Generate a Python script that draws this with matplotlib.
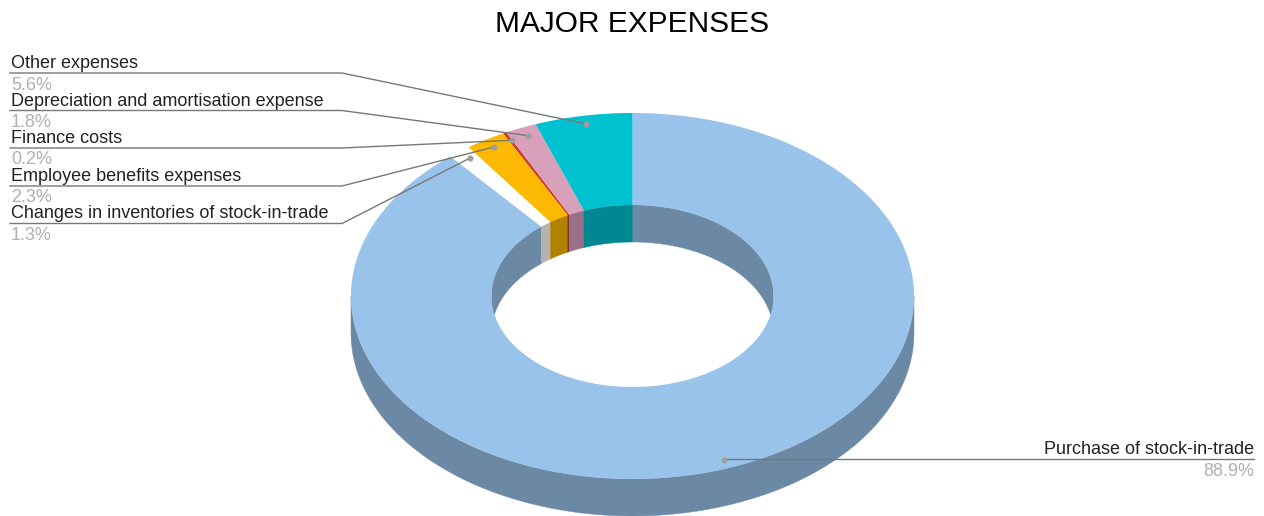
import numpy as np
import matplotlib
matplotlib.use('Agg')
import matplotlib.pyplot as plt

plt.rcParams['font.family'] = ['Liberation Sans', 'DejaVu Sans']

categories = ['Purchase of stock-in-trade', 'Changes in inventories of stock-in-trade',
              'Employee benefits expenses', 'Finance costs',
              'Depreciation and amortisation expense', 'Other expenses']
values = [88.9, 1.3, 2.3, 0.2, 1.8, 5.6]
top_colors = ['#99c3eb', '#ffffff', '#fdb900', '#cc3b2a', '#d9a0bc', '#00c1cf']
wall_colors = ['#6b89a5', '#b3b3b3', '#b18200', '#8f2a1e', '#98708a', '#008791']

# ring geometry in pixels
cx, cy = 632.5, 296
rx, ry = 281.5, 183
hole_rx, hole_ry = 141, 91
depth = 37
anchor_x, anchor_y = 0.94, 0.955

# y of the rule under each name
rule_y = [459, 223.5, 186, 148, 110.5, 73]
bend_x = 342


def ellipse_pts(t, a, b, dy=0):
    # t is measured clockwise from twelve o'clock
    return cx + a * np.sin(t), cy - b * np.cos(t) + dy


def wall(ax, t1, t2, a, b, color):
    if t2 <= t1:
        return
    t = np.linspace(t1, t2, 200)
    x, y = ellipse_pts(t, a, b)
    xb, yb = ellipse_pts(t[::-1], a, b, depth)
    ax.fill(np.r_[x, xb], np.r_[y, yb], color=color, lw=0.3, zorder=2)


fig = plt.figure(figsize=(12.64, 5.16), dpi=100)
ax = fig.add_axes([0, 0, 1, 1])
ax.set_xlim(0, 1264)
ax.set_ylim(516, 0)
ax.axis('off')

fractions = np.array(values) / sum(values)
edges = np.r_[0, np.cumsum(fractions)] * 2 * np.pi

for i in range(len(values)):
    t1, t2 = edges[i], edges[i + 1]
    # outer wall shows on the front half, inner wall on the back half
    wall(ax, max(t1, np.pi / 2), min(t2, 3 * np.pi / 2), rx, ry, wall_colors[i])
    wall(ax, t1, min(t2, np.pi / 2), hole_rx, hole_ry, wall_colors[i])
    wall(ax, max(t1, 3 * np.pi / 2), t2, hole_rx, hole_ry, wall_colors[i])

for i in range(len(values)):
    t = np.linspace(edges[i], edges[i + 1], 400)
    x, y = ellipse_pts(t, rx, ry)
    xi, yi = ellipse_pts(t[::-1], hole_rx, hole_ry)
    ax.fill(np.r_[x, xi], np.r_[y, yi], color=top_colors[i], lw=0, zorder=3)

line_col = '#777777'
for i, name in enumerate(categories):
    mid = (edges[i] + edges[i + 1]) / 2
    dx, dy = ellipse_pts(mid, rx * anchor_x, ry * anchor_y)
    pct = f'{values[i]}%'
    if i == 0:
        ax.plot([dx, 1254], [rule_y[i], rule_y[i]], color=line_col, lw=1, zorder=4)
        ax.plot(dx, dy, 'o', ms=4.4, color='#9e9e9e', mew=0, zorder=5)
        ax.text(1254, rule_y[i] - 1, name, ha='right', va='bottom', fontsize=13, color='#222222')
        ax.text(1254, rule_y[i] + 3.5, pct, ha='right', va='top', fontsize=13, color='#b0b0b0')
    else:
        ax.plot([10, bend_x, dx], [rule_y[i], rule_y[i], dy], color=line_col, lw=1, zorder=4)
        ax.plot(dx, dy, 'o', ms=4.4, color='#9e9e9e', mew=0, zorder=5)
        ax.text(11, rule_y[i] - 1, name, ha='left', va='bottom', fontsize=13, color='#222222')
        ax.text(11, rule_y[i] + 3.5, pct, ha='left', va='top', fontsize=13, color='#b0b0b0')

ax.text(632, 24, 'MAJOR EXPENSES', ha='center', va='center', fontsize=21.5, color='#000000')

fig.savefig('out.png', dpi=100)
